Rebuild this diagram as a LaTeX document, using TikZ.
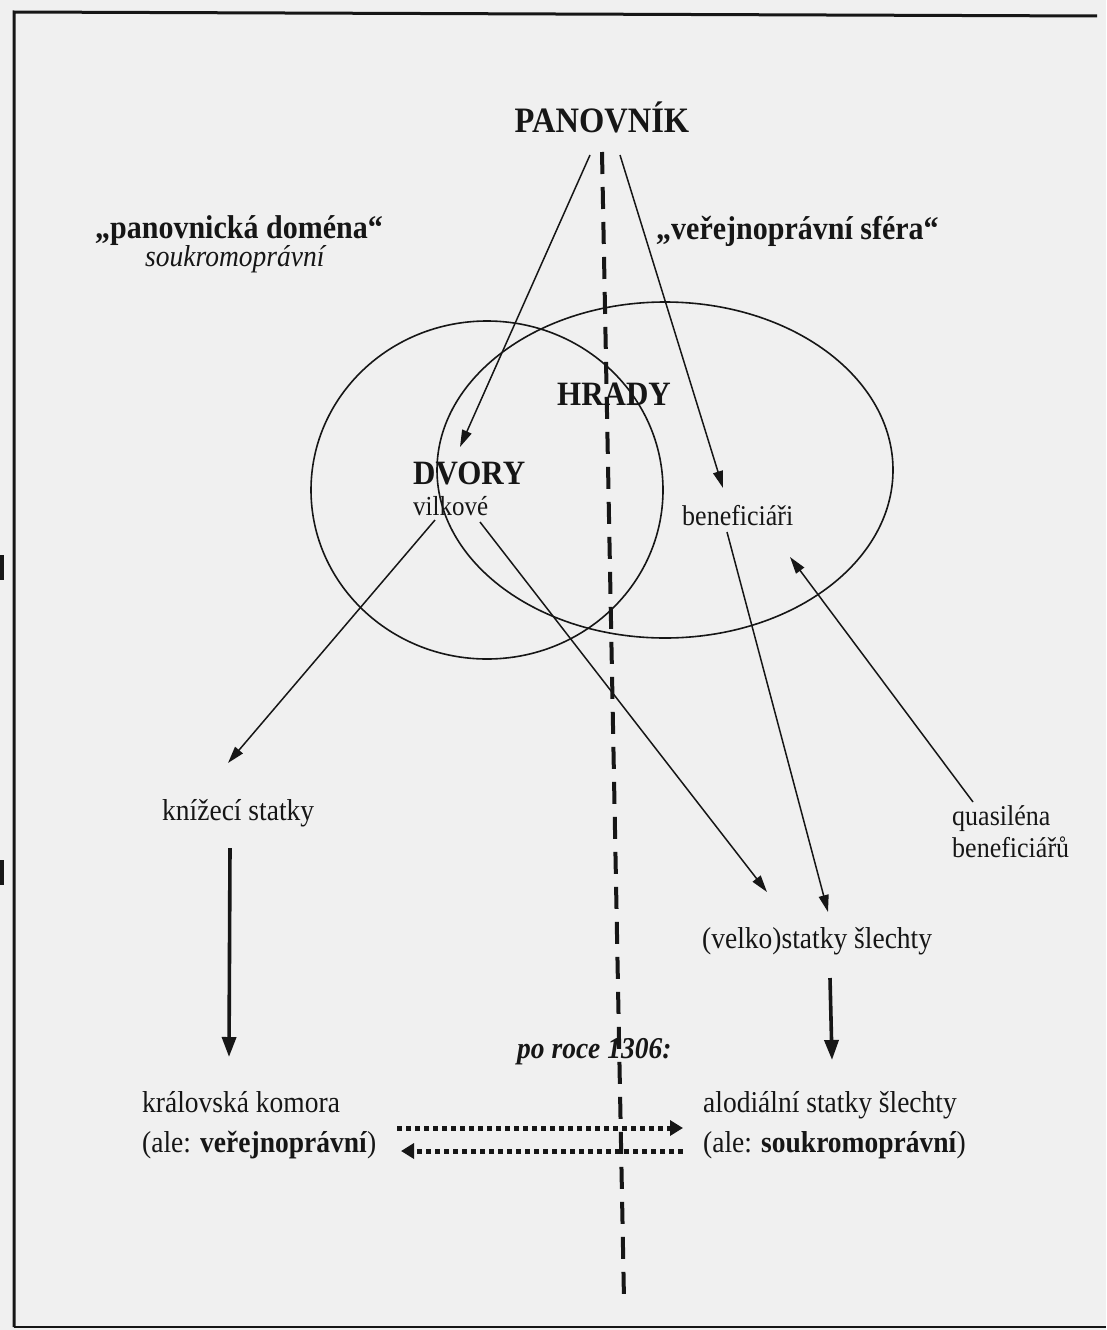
\documentclass[tikz,border=0pt]{standalone}
\usepackage{fontspec}
\setmainfont{Liberation Serif}
\usetikzlibrary{arrows.meta}
\definecolor{paper}{RGB}{240,240,240}
\definecolor{ink}{RGB}{22,22,22}
\newcommand\talltext[1]{\scalebox{1}[1.1]{#1}}
\begin{document}
\begin{tikzpicture}[x=1pt,y=-1pt,
  txt/.style={inner sep=0pt, anchor=base west, text=ink, font=\fontsize{27.5}{32}\selectfont},
  smalltxt/.style={txt, font=\fontsize{26}{31}\selectfont},
  hdr/.style={txt, font=\fontsize{30}{36}\selectfont\bfseries},
  bigb/.style={txt, font=\fontsize{31}{36}\selectfont\bfseries},
  ital/.style={txt, font=\fontsize{27.5}{32}\selectfont\itshape},
  bital/.style={txt, font=\fontsize{27.5}{32}\selectfont\bfseries\itshape},
  ring/.style={draw=ink, line width=1.6pt},
  ar/.style={draw=ink, line width=1.5pt, -{Triangle[length=17pt,width=10pt]}},
  thickar/.style={draw=ink, line width=3.6pt, -{Triangle[length=20pt,width=14pt]}},
  divider/.style={draw=ink, line width=4pt, dash pattern=on 22pt off 13pt},
  dotar/.style={draw=ink, line width=5pt, dash pattern=on 5pt off 4pt, -{Triangle[length=13pt,width=15pt]}}
]
\useasboundingbox (0,0) rectangle (1106,1330);
\fill[paper] (0,0) rectangle (1106,1330);
% frame
\draw[ink, line width=3pt] (14,1327) -- (14,12) -- (1097,16);
\draw[ink, line width=2.2pt] (14,1327) -- (1106,1327);
\fill[ink] (0,555) rectangle (4,580);
\fill[ink] (0,860) rectangle (4,885);

% ellipses
\draw[ring] (487,490) ellipse [x radius=176, y radius=169];
\draw[ring] (665,470) ellipse [x radius=228, y radius=168];

% texts
\node[bigb, anchor=base, font=\fontsize{32.5}{38}\selectfont\bfseries] (pan) at (602,132) {\talltext{PANOVNÍK}};
\node[hdr] (dom) at (95,238) {\talltext{„panovnická doména“}};
\node[ital] (souk) at (145,266) {\talltext{soukromoprávní}};
\node[hdr] (ver) at (656,239) {\talltext{„veřejnoprávní sféra“}};
\node[bigb] (hr) at (557,405) {\talltext{HRADY}};
\node[bigb] (dv) at (413,484) {\talltext{DVORY}};
\node[txt, font=\fontsize{25}{30}\selectfont] (vil) at (413,515) {\talltext{vilkové}};
\node[smalltxt] (ben) at (682,525) {\talltext{beneficiáři}};
\node[txt] (kn) at (162,820) {\talltext{knížecí statky}};
\node[smalltxt] (q1) at (952,825) {\talltext{quasiléna}};
\node[smalltxt] (q2) at (952,857) {\talltext{beneficiářů}};
\node[txt] (vs) at (702,948) {\talltext{(velko)statky šlechty}};
\node[bital] (po) at (517,1058) {\talltext{po roce 1306:}};
\node[txt] (kk1) at (142,1112) {\talltext{královská komora}};
\node[txt] (kk2) at (142,1152) {\talltext{(ale: \textbf{veřejnoprávní})}};
\node[txt] (al1) at (703,1112) {\talltext{alodiální statky šlechty}};
\node[txt] (al2) at (703,1152) {\talltext{(ale: \textbf{soukromoprávní})}};

% connector end points
\coordinate (panL) at (590,155);
\coordinate (panR) at (620,155);
\coordinate (dvIn) at (460,447);
\coordinate (benIn) at (723,488);
\coordinate (dvOutL) at (435,520);
\coordinate (dvOutR) at (480,522);
\coordinate (knIn) at (228,763);
\coordinate (vsInL) at (767,892);
\coordinate (vsInR) at (828,912);
\coordinate (benOut) at (727,532);
\coordinate (qOut) at (973,802);
\coordinate (benIn2) at (790,557);
\coordinate (knOut) at (230,848);
\coordinate (kkIn) at (229,1057);
\coordinate (vsOut) at (830,978);
\coordinate (alIn) at (832,1060);
\coordinate (divTop) at (602,152);
\coordinate (divBot) at (624,1300);
\coordinate (d1a) at (397,1128);
\coordinate (d1b) at (683,1128);
\coordinate (d2a) at (683,1151);
\coordinate (d2b) at (401,1151);

% divider
\draw[divider] (divTop) -- (divBot);

% arrows
\draw[ar] (panL) -- (dvIn);
\draw[ar] (panR) -- (benIn);
\draw[ar] (dvOutL) -- (knIn);
\draw[ar] (dvOutR) -- (vsInL);
\draw[ar] (benOut) -- (vsInR);
\draw[ar] (qOut) -- (benIn2);
\draw[thickar] (knOut) -- (kkIn);
\draw[thickar] (vsOut) -- (alIn);
\draw[dotar] (d1a) -- (d1b);
\draw[dotar] (d2a) -- (d2b);
\end{tikzpicture}
\end{document}
